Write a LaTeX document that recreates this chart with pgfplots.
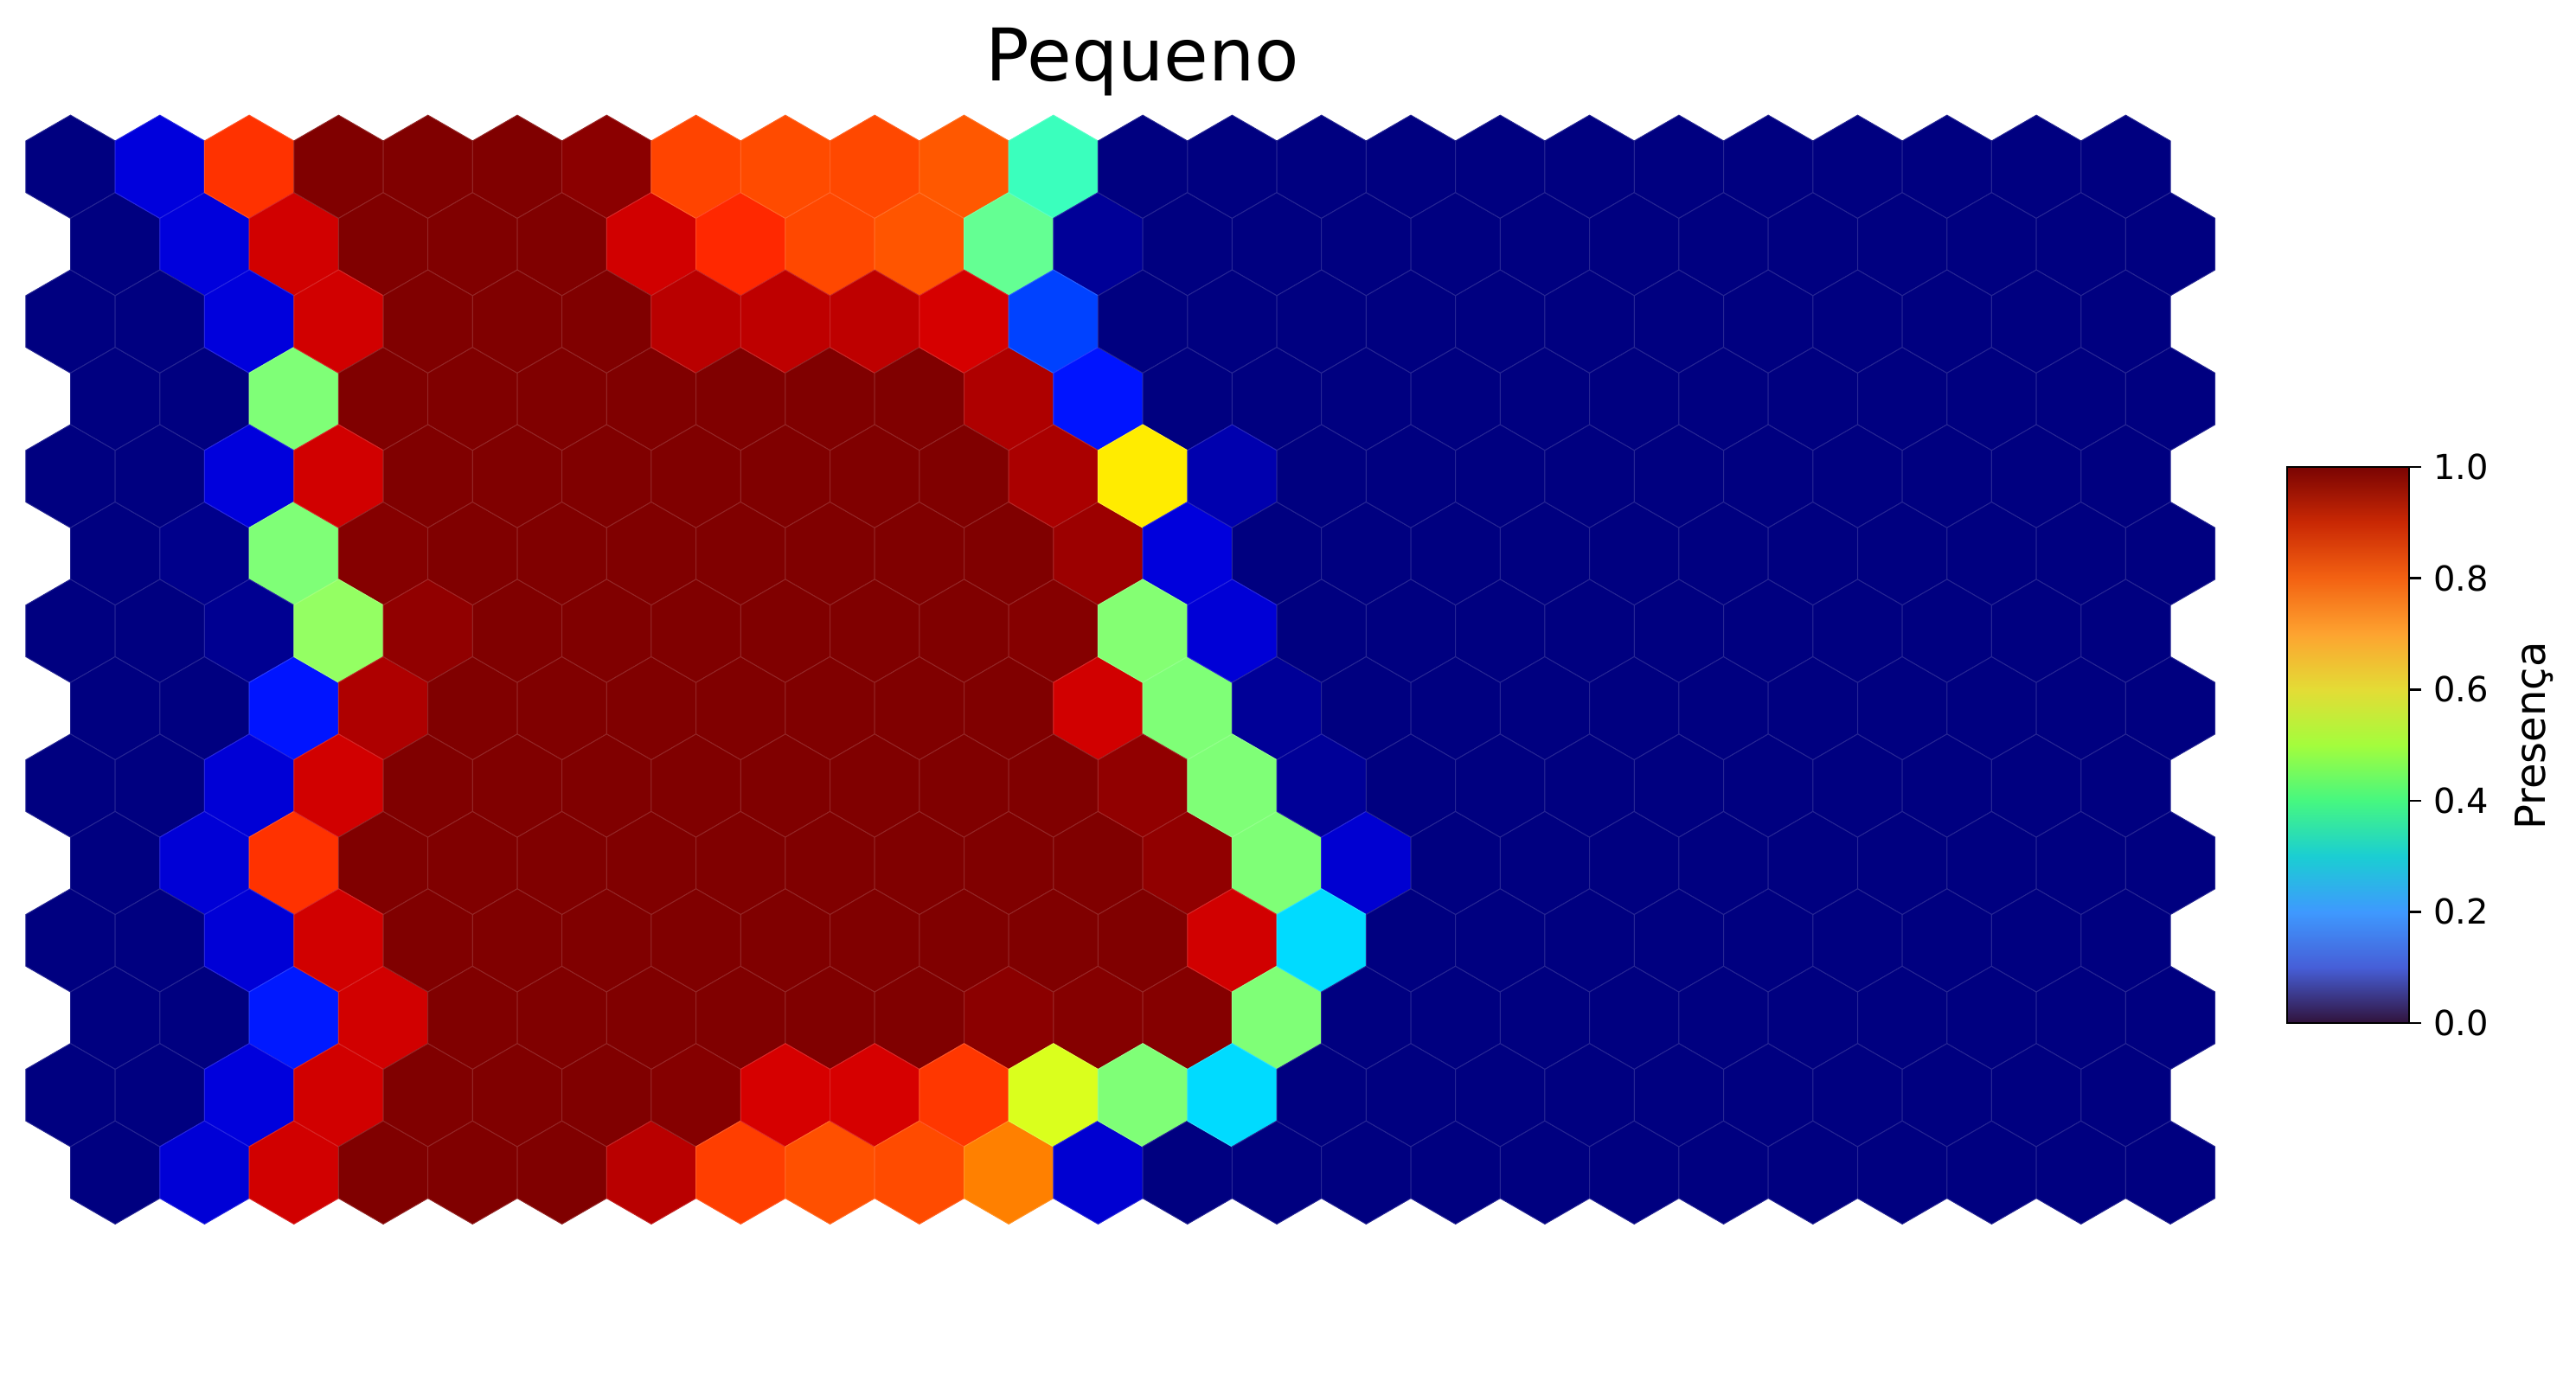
\documentclass[border=0pt]{standalone}
\usepackage{fontspec}
\setmainfont{DejaVu Sans}
\usepackage{pgfplots}
\pgfplotsset{compat=1.18}
\usepackage{pgfplotstable}

% matplotlib jet (hexes) and turbo (colour bar)
\pgfplotsset{
  colormap={turbo}{rgb(0pt)=(0.190,0.072,0.232) rgb(1pt)=(0.276,0.370,0.845)
    rgb(2pt)=(0.245,0.600,0.998) rgb(3pt)=(0.103,0.808,0.826) rgb(4pt)=(0.274,0.970,0.502)
    rgb(5pt)=(0.640,0.992,0.237) rgb(6pt)=(0.892,0.862,0.210) rgb(7pt)=(0.993,0.641,0.188)
    rgb(8pt)=(0.954,0.384,0.071) rgb(9pt)=(0.791,0.158,0.017) rgb(10pt)=(0.480,0.016,0.011)},
  colormap={mpljet}{rgb(0pt)=(0,0,0.5) rgb(11pt)=(0,0,1) rgb(12.5pt)=(0,0,1)
    rgb(34pt)=(0,0.86,1) rgb(35pt)=(0,0.9,0.968) rgb(37.5pt)=(0.081,1,0.887)
    rgb(64pt)=(0.935,1,0.032) rgb(65pt)=(0.968,0.963,0) rgb(66pt)=(1,0.926,0)
    rgb(89pt)=(1,0.074,0) rgb(91pt)=(0.909,0,0) rgb(100pt)=(0.5,0,0)},
}

\pgfdeclareplotmark{hexagon}{%
  \pgfpathmoveto{\pgfpointpolar{90}{\pgfplotmarksize}}%
  \pgfpathlineto{\pgfpointpolar{150}{\pgfplotmarksize}}%
  \pgfpathlineto{\pgfpointpolar{210}{\pgfplotmarksize}}%
  \pgfpathlineto{\pgfpointpolar{270}{\pgfplotmarksize}}%
  \pgfpathlineto{\pgfpointpolar{330}{\pgfplotmarksize}}%
  \pgfpathlineto{\pgfpointpolar{30}{\pgfplotmarksize}}%
  \pgfpathclose
  \pgfusepathqfillstroke
}

% one line per map row (top to bottom), one column per map column
\pgfplotstableread{
c0 c1 c2 c3 c4 c5 c6 c7 c8 c9 c10 c11 c12 c13 c14 c15 c16 c17 c18 c19 c20 c21 c22 c23
0 0.08 0.857 1 1 1 0.99 0.838 0.831 0.834 0.817 0.42 0 0 0 0 0 0 0 0 0 0 0 0
0 0.08 0.93 1 1 1 0.93 0.868 0.834 0.82 0.471 0.02 0 0 0 0 0 0 0 0 0 0 0 0
0 0 0.08 0.93 1 1 1 0.95 0.946 0.946 0.925 0.19 0 0 0 0 0 0 0 0 0 0 0 0
0 0 0.505 1 1 1 1 1 1 1 0.96 0.145 0 0 0 0 0 0 0 0 0 0 0 0
0 0 0.08 0.93 1 1 1 1 1 1 1 0.963 0.66 0.04 0 0 0 0 0 0 0 0 0 0
0 0.01 0.505 0.995 1 1 1 1 1 1 1 0.975 0.08 0 0 0 0 0 0 0 0 0 0 0
0 0 0.015 0.53 0.985 1 1 1 1 1 1 0.995 0.51 0.075 0 0 0 0 0 0 0 0 0 0
0 0 0.145 0.96 1 1 1 1 1 1 1 0.93 0.505 0.02 0 0 0 0 0 0 0 0 0 0
0 0 0.075 0.93 1 1 1 1 1 1 1 1 0.985 0.505 0.02 0 0 0 0 0 0 0 0 0
0 0.075 0.857 1 1 1 1 1 1 1 1 1 0.985 0.505 0.07 0 0 0 0 0 0 0 0 0
0 0 0.075 0.93 1 1 1 1 1 1 1 1 1 0.93 0.34 0 0 0 0 0 0 0 0 0
0 0 0.15 0.93 1 1 1 1 1 1 0.99 0.995 0.995 0.505 0 0 0 0 0 0 0 0 0 0
0 0 0.08 0.93 1 1 1 0.995 0.925 0.925 0.852 0.615 0.505 0.34 0 0 0 0 0 0 0 0 0 0
0 0.075 0.93 1 1 1 0.95 0.844 0.825 0.831 0.774 0.07 0 0 0 0 0 0 0 0 0 0 0 0
}\hexgrid

\begin{document}
\begin{tikzpicture}
\path[use as bounding box] (0,0) rectangle (744.5pt,397.25pt);
% colour bar default xshift of 0.3cm is taken off here
\coordinate (cbsw) at (652.46pt,101.5pt);

\begin{axis}[
    at={(-5.45pt,35.94pt)}, anchor=south west,
    scale only axis, width=671.45pt, height=335.475pt,
    xmin=-1, xmax=25, ymin=-14, ymax=1,
    axis lines=none, xtick=\empty, ytick=\empty,
    clip=false,
    colormap name=mpljet,
    point meta min=0, point meta max=1,
    colorbar,
    colorbar/width=35.25pt,
    colorbar style={
        colormap name=turbo,
        at={(cbsw)}, anchor=south west,
        scale only axis, height=160.75pt,
        axis lines=box,
        axis line style={black, line width=0.65pt},
        ytick={0,0.2,0.4,0.6,0.8,1},
        ytick pos=right, yticklabel pos=right,
        tick align=outside, major tick length=3.5pt,
        ytick style={black, line width=0.65pt},
        yticklabel style={font=\fontsize{10}{12}\selectfont,
            /pgf/number format/fixed, /pgf/number format/fixed zerofill,
            /pgf/number format/precision=1,
            /pgf/number format/assume math mode=true},
    },
]
\pgfplotsinvokeforeach{0,...,23}{
  \addplot[scatter, only marks, mark=hexagon, mark size=14.91pt,
           point meta=explicit,
           scatter/use mapped color={draw=mapped color!85!white, fill=mapped color},
           mark options={line width=0.25pt}]
    table[x expr={#1+0.5*mod(\coordindex,2)}, y expr={-\coordindex}, meta=c#1] {\hexgrid};
}
\end{axis}

\node[anchor=base, font=\fontsize{21}{25}\selectfont] at (330.25pt,373.75pt) {Pequeno};
\node[rotate=90, font=\fontsize{12}{14}\selectfont] at (732.5pt,184.5pt) {Presença};
\end{tikzpicture}
\end{document}
